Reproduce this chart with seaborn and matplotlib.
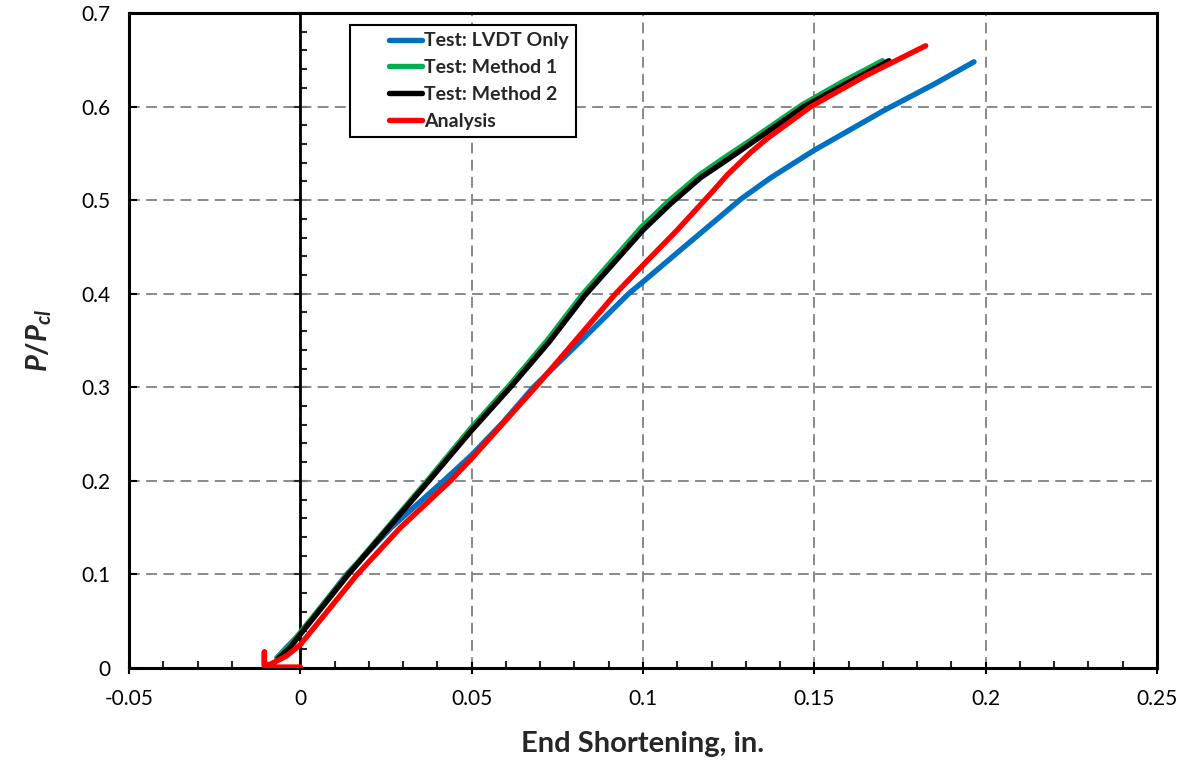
import matplotlib
matplotlib.use("Agg")
import matplotlib.pyplot as plt
import seaborn as sns
from matplotlib.ticker import MultipleLocator, FuncFormatter

# data
lvdt_x = [-0.0068, -0.004, 0.0, 0.006, 0.0135, 0.0265, 0.0418, 0.05, 0.059, 0.068,
          0.082, 0.0958, 0.1, 0.112, 0.1236, 0.1285, 0.1373, 0.15, 0.1704, 0.185, 0.1966]
lvdt_y = [0.011, 0.022, 0.037, 0.065, 0.100, 0.150, 0.200, 0.2276, 0.262, 0.300,
          0.350, 0.400, 0.4127, 0.450, 0.4857, 0.501, 0.524, 0.5534, 0.596, 0.624, 0.6478]

m1_x = [-0.0068, -0.003, 0.0, 0.0138, 0.037, 0.0497, 0.061, 0.072, 0.0825, 0.0995,
        0.1075, 0.1165, 0.124, 0.131, 0.1465, 0.158, 0.1699]
m1_y = [0.011, 0.024, 0.038, 0.100, 0.200, 0.256, 0.302, 0.350, 0.400, 0.471,
        0.499, 0.527, 0.546, 0.563, 0.602, 0.626, 0.649]

m2_x = [-0.0065, -0.003, 0.0, 0.014, 0.0375, 0.05, 0.0613, 0.0725, 0.083, 0.1,
        0.108, 0.1168, 0.1245, 0.1314, 0.147, 0.159, 0.1718]
m2_y = [0.010, 0.022, 0.036, 0.100, 0.200, 0.254, 0.300, 0.348, 0.398, 0.468,
        0.496, 0.524, 0.543, 0.5605, 0.600, 0.624, 0.649]

ana_x = [0.0, -0.0105, -0.0105, -0.0105, -0.0088, -0.004, 0.0, 0.0166, 0.0292, 0.0438,
         0.05, 0.0686, 0.092, 0.1, 0.11, 0.12, 0.1246, 0.1314, 0.1363, 0.149, 0.165, 0.1825]
ana_y = [0.001, 0.001, 0.017, 0.003, 0.004, 0.013, 0.025, 0.100, 0.150, 0.200,
         0.224, 0.300, 0.400, 0.4306, 0.468, 0.508, 0.527, 0.551, 0.566, 0.600, 0.633, 0.665]

series = [
    ("Test: LVDT Only", lvdt_x, lvdt_y, "#0070C0"),
    ("Test: Method 1", m1_x, m1_y, "#00B050"),
    ("Test: Method 2", m2_x, m2_y, "black"),
    ("Analysis", ana_x, ana_y, "#FF0000"),
]

sns.set_theme(style="white")
plt.rcParams["font.family"] = ["Lato", "DejaVu Sans"]
plt.rcParams["mathtext.fontset"] = "custom"
plt.rcParams["mathtext.it"] = "Lato:italic:bold"
plt.rcParams["mathtext.rm"] = "Lato:bold"

fig = plt.figure(figsize=(11.86, 7.61), dpi=100)
ax = fig.add_axes([0.1088, 0.1222, 0.8667, 0.8607])

for name, xs, ys, col in series:
    sns.lineplot(x=xs, y=ys, sort=False, estimator=None, color=col, lw=3.9,
                 label=name, ax=ax, solid_capstyle="round", zorder=3)

ax.set_xlim(-0.05, 0.25)
ax.set_ylim(0, 0.7)
ax.xaxis.set_major_locator(MultipleLocator(0.05))
ax.xaxis.set_minor_locator(MultipleLocator(0.01))
ax.yaxis.set_major_locator(MultipleLocator(0.1))
fmt = FuncFormatter(lambda v, p: "0" if abs(v) < 1e-9 else f"{v:g}")
ax.xaxis.set_major_formatter(fmt)
ax.yaxis.set_major_formatter(fmt)

ax.grid(True, which="major", color="#808080", ls=(0, (6, 3.5)), lw=1.3)
for s in ax.spines.values():
    s.set_color("black")
    s.set_linewidth(2.2)
ax.tick_params(axis="x", which="major", direction="inout", length=8, width=1.5,
               labelsize=15, pad=11, bottom=True, colors="black")
ax.tick_params(axis="x", which="minor", direction="in", length=5, width=1.5, bottom=True)
ax.tick_params(axis="y", which="major", direction="in", length=6, width=1.5,
               labelsize=15, pad=13, left=True, colors="black")

# zero axis with its own ticks
ax.axvline(0, color="black", lw=2.0, zorder=2)
zero_ax = ax.secondary_yaxis(1 / 6)
zero_ax.spines["left"].set_linewidth(0)
zero_ax.yaxis.set_major_locator(MultipleLocator(0.1))
zero_ax.yaxis.set_minor_locator(MultipleLocator(0.02))
zero_ax.tick_params(which="major", direction="inout", length=10, width=1.5, labelleft=False)
zero_ax.tick_params(which="minor", direction="in", length=5, width=1.5)

ax.set_xlabel("End Shortening, in.", fontsize=21, fontweight="bold", labelpad=16)
ax.set_ylabel(r"$P/P_{cl}$", fontsize=21, labelpad=20)

leg = ax.legend(loc="upper left", bbox_to_anchor=(0.2055, 0.997), frameon=True,
                fancybox=False, edgecolor="black", framealpha=1, handlelength=3.3,
                handletextpad=0.1, labelspacing=0.5, borderpad=0.4,
                prop={"weight": "bold", "size": 14})
leg.get_frame().set_linewidth(1.5)
for ln in leg.get_lines():
    ln.set_linewidth(3.9)
    xd = list(ln.get_xdata())
    yd = list(ln.get_ydata())
    ln.set_xdata([xd[0] + 0.48 * (xd[-1] - xd[0]), xd[-1]])
    ln.set_ydata([yd[0], yd[-1]])

fig.savefig("out.png", dpi=100)
